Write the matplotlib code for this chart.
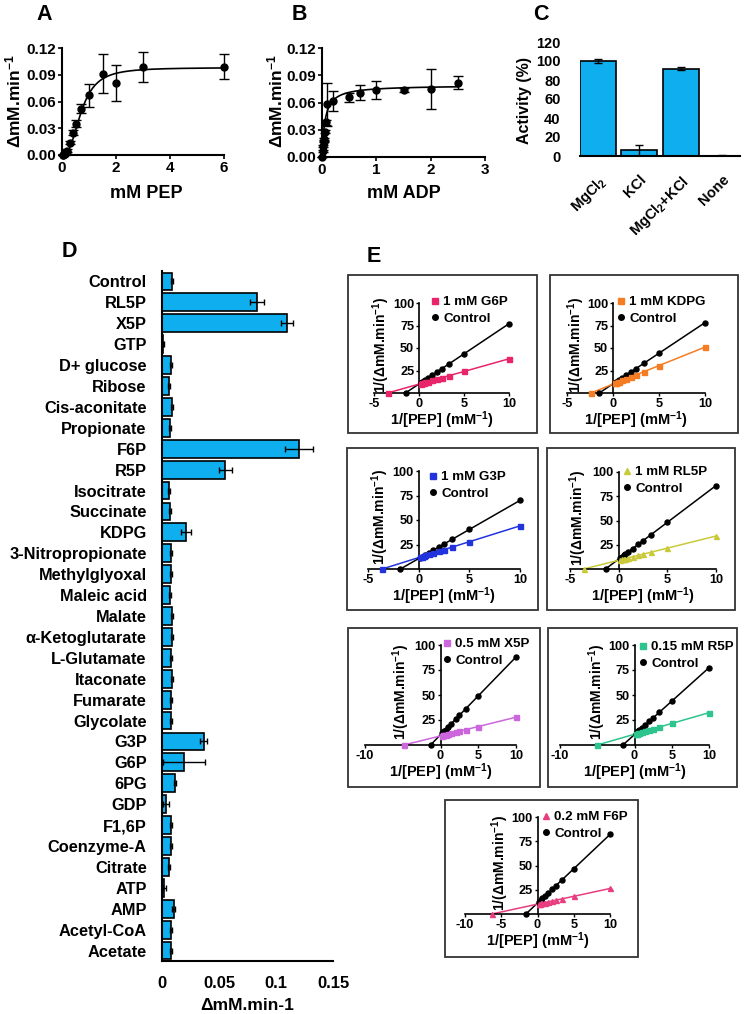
import matplotlib
matplotlib.use('Agg')
import matplotlib.pyplot as plt
import numpy as np
from matplotlib.patches import Rectangle
from matplotlib.lines import Line2D

plt.rcParams['font.family'] = ['Liberation Sans', 'DejaVu Sans']
plt.rcParams['font.weight'] = 'bold'
plt.rcParams['axes.labelweight'] = 'bold'
plt.rcParams['mathtext.fontset'] = 'custom'
plt.rcParams['mathtext.rm'] = 'Liberation Sans:bold'
plt.rcParams['mathtext.bf'] = 'Liberation Sans:bold'
plt.rcParams['mathtext.it'] = 'Liberation Sans:bold'
plt.rcParams['mathtext.default'] = 'rm'
plt.rcParams['axes.unicode_minus'] = False

# ---------------- data ----------------
# Panel A: PEP saturation
pep_conc = [0.025, 0.05, 0.1, 0.15, 0.2, 0.3, 0.4, 0.5, 0.7, 1.0, 1.5, 2.0, 3.0, 6.0]
pep_rate = [0.0, 0.0005, 0.001, 0.003, 0.005, 0.014, 0.025, 0.035, 0.052, 0.067, 0.091, 0.081, 0.099, 0.099]
pep_err = [0.0, 0.0, 0.0005, 0.001, 0.002, 0.002, 0.003, 0.004, 0.005, 0.013, 0.022, 0.020, 0.017, 0.014]
pep_vmax, pep_k, pep_n = 0.098, 0.72, 2.6   # Hill fit

# Panel B: ADP saturation
adp_conc = [0.005, 0.01, 0.02, 0.03, 0.04, 0.05, 0.075, 0.1, 0.2, 0.5, 0.7, 1.0, 1.5, 2.0, 2.5]
adp_rate = [0.0, 0.007, 0.012, 0.017, 0.020, 0.028, 0.038, 0.058, 0.062, 0.066, 0.071, 0.074, 0.074, 0.075, 0.082]
adp_err = [0.0, 0.001, 0.001, 0.001, 0.001, 0.002, 0.003, 0.024, 0.011, 0.005, 0.008, 0.010, 0.002, 0.022, 0.007]
adp_vmax, adp_km = 0.079, 0.055   # Michaelis-Menten fit

# Panel C: metal ions
conditions = ['MgCl$_2$', 'KCl', 'MgCl$_2$+KCl', 'None']
activity = [100, 6, 92, 0.5]
activity_err = [2.5, 6, 1.2, 0.2]

# Panel D: effectors
effectors = ['Control', 'RL5P', 'X5P', 'GTP', 'D+ glucose', 'Ribose', 'Cis-aconitate',
             'Propionate', 'F6P', 'R5P', 'Isocitrate', 'Succinate', 'KDPG',
             '3-Nitropropionate', 'Methylglyoxal', 'Maleic acid', 'Malate',
             'α-Ketoglutarate', 'L-Glutamate', 'Itaconate', 'Fumarate', 'Glycolate',
             'G3P', 'G6P', '6PG', 'GDP', 'F1,6P', 'Coenzyme-A', 'Citrate', 'ATP',
             'AMP', 'Acetyl-CoA', 'Acetate']
effector_rate = [0.009, 0.0833, 0.1096, 0.001, 0.008, 0.006, 0.0085, 0.0073, 0.120, 0.0556,
                 0.006, 0.0073, 0.021, 0.0076, 0.008, 0.0067, 0.0088, 0.009, 0.0076,
                 0.0088, 0.008, 0.0076, 0.0365, 0.019, 0.0117, 0.0035, 0.0076, 0.0076,
                 0.006, 0.002, 0.0102, 0.0076, 0.0076]
effector_err = [0.001, 0.006, 0.005, 0.0005, 0.0008, 0.0008, 0.001, 0.001, 0.0125, 0.0055,
                0.001, 0.0008, 0.004, 0.0008, 0.0008, 0.0008, 0.001, 0.001, 0.0008,
                0.001, 0.001, 0.0008, 0.003, 0.0185, 0.001, 0.003, 0.0008, 0.001,
                0.001, 0.0015, 0.0015, 0.001, 0.001]

# Panel E: double reciprocal plots
inv_pep = [0.167, 0.333, 0.5, 0.667, 1.0, 1.43, 2.0, 2.5, 3.33, 5.0, 10.0]

g6p_ctrl_xint, g6p_xint = -1.5, -3.5
g6p_ctrl = [11.1, 12.2, 13.4, 14.5, 16.7, 19.6, 23.4, 26.8, 32.3, 43.5, 77.0]
g6p_eff = [10.3, 10.8, 11.3, 11.7, 12.7, 13.9, 15.5, 16.9, 19.2, 23.9, 38.0]

kdpg_ctrl_xint, kdpg_xint = -1.5, -2.4
kdpg_ctrl = [11.3, 12.5, 13.6, 14.7, 17.0, 19.9, 23.8, 27.2, 32.8, 44.2, 78.2]
kdpg_eff = [10.6, 11.3, 11.9, 12.6, 14.0, 15.8, 18.1, 20.2, 23.6, 30.4, 51.0]

g3p_ctrl_xint, g3p_xint = -1.8, -3.6
g3p_ctrl = [11.7, 12.7, 13.7, 14.7, 16.6, 19.2, 22.6, 25.5, 30.4, 40.4, 70.0]
g3p_eff = [12.1, 12.7, 13.2, 13.8, 14.8, 16.2, 18.1, 19.7, 22.4, 27.8, 44.0]

rl5p_ctrl_xint, rl5p_xint = -1.35, -3.6
rl5p_ctrl = [11.5, 12.7, 14.0, 15.3, 17.8, 21.0, 25.4, 29.2, 35.4, 48.1, 86.0]
rl5p_eff = [9.4, 9.8, 10.3, 10.7, 11.5, 12.6, 14.0, 15.3, 17.3, 21.5, 34.0]

x5p_ctrl_xint, x5p_xint = -1.32, -4.85
x5p_ctrl = [11.6, 12.9, 14.2, 15.5, 18.1, 21.4, 25.8, 29.7, 36.2, 49.2, 88.0]
x5p_eff = [9.4, 9.7, 10.0, 10.3, 11.0, 11.8, 12.8, 13.8, 15.3, 18.5, 27.8]

r5p_ctrl_xint, r5p_xint = -1.56, -5.0
r5p_ctrl = [11.5, 12.6, 13.7, 14.9, 17.1, 20.0, 23.8, 27.1, 32.7, 43.9, 77.3]
r5p_eff = [11.2, 11.5, 11.9, 12.2, 13.0, 13.9, 15.1, 16.2, 18.0, 21.6, 32.3]

f6p_ctrl_xint, f6p_xint = -1.6, -6.3
f6p_ctrl = [12.5, 13.7, 14.8, 16.0, 18.4, 21.4, 25.4, 29.0, 34.9, 46.7, 82.0]
f6p_eff = [10.5, 10.7, 11.0, 11.3, 11.8, 12.5, 13.4, 14.2, 15.6, 18.3, 26.3]

# ---------------- layout helpers ----------------
W, H = 745, 1014
fig = plt.figure(figsize=(W / 100, H / 100), dpi=100)


def px_rect(l, t, r, b):
    return [l / W, 1 - b / H, (r - l) / W, (b - t) / H]


def fpt(x, y):
    return (x / W, 1 - y / H)


def ftext(x, y, s, **kw):
    fig.text(x / W, 1 - y / H, s, **kw)


BAR = '#0FAEEE'
SPW = 1.5

# panel letters
for let, (x, y) in zip('ABCDE', [(44, 15), (299, 15), (541, 15), (69, 252), (374, 256)]):
    ftext(x, y, let, fontsize=15.5, ha='center', va='center', fontweight='bold')


def style_xy(ax, lw=SPW):
    for s in ['top', 'right']:
        ax.spines[s].set_visible(False)
    for s in ['left', 'bottom']:
        ax.spines[s].set_linewidth(lw)


# ---------------- Panel A ----------------
axA = fig.add_axes(px_rect(62, 48, 224, 155))
style_xy(axA)
xx = np.linspace(0, 6, 400)
axA.plot(xx, pep_vmax * xx ** pep_n / (pep_k ** pep_n + xx ** pep_n), color='black', lw=1.2)
axA.errorbar(pep_conc, pep_rate, yerr=pep_err, fmt='o', color='black', ms=5,
             capsize=3.5, elinewidth=1, capthick=1, clip_on=False, zorder=3)
axA.set_xlim(0, 6)
axA.set_ylim(0, 0.12)
axA.set_xticks([0, 2, 4, 6])
axA.set_yticks([0, 0.03, 0.06, 0.09, 0.12])
axA.set_yticklabels(['0.00', '0.03', '0.06', '0.09', '0.12'])
axA.tick_params(labelsize=11, width=1.2, length=3, pad=1.5)
ftext(13, 101, 'ΔmM.min$^{-1}$', rotation=90, ha='center', va='center', fontsize=12.5)
ftext(146, 193, 'mM PEP', ha='center', va='center', fontsize=13)

# ---------------- Panel B ----------------
axB = fig.add_axes(px_rect(322, 48, 485, 157))
style_xy(axB)
xx = np.linspace(0, 2.5, 400)
axB.plot(xx, adp_vmax * xx / (adp_km + xx), color='black', lw=1.2)
axB.errorbar(adp_conc, adp_rate, yerr=adp_err, fmt='o', color='black', ms=5,
             capsize=3.5, elinewidth=1, capthick=1, clip_on=False, zorder=3)
axB.set_xlim(0, 3)
axB.set_ylim(0, 0.12)
axB.set_xticks([0, 1, 2, 3])
axB.set_yticks([0, 0.03, 0.06, 0.09, 0.12])
axB.set_yticklabels(['0.00', '0.03', '0.06', '0.09', '0.12'])
axB.tick_params(labelsize=11, width=1.2, length=3, pad=1.5)
ftext(275, 101, 'ΔmM.min$^{-1}$', rotation=90, ha='center', va='center', fontsize=12.5)
ftext(404, 193, 'mM ADP', ha='center', va='center', fontsize=13)

# ---------------- Panel C ----------------
axC = fig.add_axes(px_rect(580, 42, 740, 156))
for s in ['top', 'right', 'left']:
    axC.spines[s].set_visible(False)
axC.spines['bottom'].set_linewidth(SPW)
xc = np.arange(len(conditions))
axC.bar(xc, activity, width=0.86, color=BAR, edgecolor='black', linewidth=1.2,
        yerr=activity_err, capsize=3, error_kw=dict(elinewidth=1, capthick=1))
axC.set_xlim(-0.43, 3.43)
axC.set_ylim(0, 120)
axC.set_yticks(range(0, 121, 20))
axC.set_xticks(xc)
axC.set_xticklabels(conditions, rotation=45, ha='right', rotation_mode='anchor')
axC.tick_params(axis='y', length=0, pad=14, labelsize=10.5)
axC.tick_params(axis='x', length=0, pad=12, labelsize=10.5)
ftext(525, 100, 'Activity (%)', rotation=90, ha='center', va='center', fontsize=11.5)

# ---------------- Panel D ----------------
axD = fig.add_axes(px_rect(162, 271, 333, 961))
style_xy(axD)
yd = np.arange(len(effectors))
axD.barh(yd, effector_rate, height=0.85, color=BAR, edgecolor='black', linewidth=1.2,
         xerr=effector_err, capsize=2.5, error_kw=dict(elinewidth=1, capthick=1))
axD.set_ylim(len(effectors) - 0.5, -0.5)
axD.set_xlim(0, 0.15)
axD.set_yticks(yd)
axD.set_yticklabels(effectors)
axD.set_xticks([0, 0.05, 0.1, 0.15])
axD.set_xticklabels(['0', '0.05', '0.1', '0.15'])
axD.tick_params(axis='y', length=0, pad=11, labelsize=11.8)
axD.tick_params(axis='x', length=0, pad=11, labelsize=12)
ftext(247, 1005, 'ΔmM.min-1', ha='center', va='center', fontsize=12.5)

# ---------------- Panel E ----------------
e_panels = [
    dict(box=(348, 275, 537, 433), ax=(374, 303, 509, 393), xlim=(-5, 10), xt=[-5, 0, 5, 10],
         ylx=381, leg=(435, 304), ctrl=g6p_ctrl, cx=g6p_ctrl_xint, eff=g6p_eff, ex=g6p_xint,
         color='#E8246A', marker='s', label='1 mM G6P'),
    dict(box=(550, 275, 738, 433), ax=(567, 303, 705, 393), xlim=(-5, 10), xt=[-5, 0, 5, 10],
         ylx=576, leg=(621, 304), ctrl=kdpg_ctrl, cx=kdpg_ctrl_xint, eff=kdpg_eff, ex=kdpg_xint,
         color='#F57C22', marker='s', label='1 mM KDPG'),
    dict(box=(347, 448, 538, 610), ax=(368, 471, 520, 569), xlim=(-5, 10), xt=[-5, 0, 5, 10],
         ylx=380, leg=(433, 479), ctrl=g3p_ctrl, cx=g3p_ctrl_xint, eff=g3p_eff, ex=g3p_xint,
         color='#2233DD', marker='s', label='1 mM G3P'),
    dict(box=(547, 448, 735, 610), ax=(570, 472, 716, 569), xlim=(-5, 10), xt=[-5, 0, 5, 10],
         ylx=578, leg=(627, 474), ctrl=rl5p_ctrl, cx=rl5p_ctrl_xint, eff=rl5p_eff, ex=rl5p_xint,
         color='#C9C93A', marker='^', label='1 mM RL5P'),
    dict(box=(348, 628, 540, 787), ax=(365, 645, 516, 745), xlim=(-10, 10), xt=[-10, 0, 5, 10],
         ylx=401, leg=(447, 646), ctrl=x5p_ctrl, cx=x5p_ctrl_xint, eff=x5p_eff, ex=x5p_xint,
         color='#CC66DD', marker='s', label='0.5 mM X5P'),
    dict(box=(548, 628, 737, 787), ax=(560, 645, 709, 745), xlim=(-10, 10), xt=[-10, 0, 5, 10],
         ylx=597, leg=(643, 649), ctrl=r5p_ctrl, cx=r5p_ctrl_xint, eff=r5p_eff, ex=r5p_xint,
         color='#2DC48D', marker='s', label='0.15 mM R5P'),
    dict(box=(445, 800, 638, 957), ax=(465, 817, 610, 914), xlim=(-10, 10), xt=[-10, -5, 0, 5, 10],
         ylx=500, leg=(546, 819), ctrl=f6p_ctrl, cx=f6p_ctrl_xint, eff=f6p_eff, ex=f6p_xint,
         color='#E83D7E', marker='^', label='0.2 mM F6P'),
]

for p in e_panels:
    bl, bt, br, bb = p['box']
    fig.patches.append(Rectangle((bl / W, 1 - bb / H), (br - bl) / W, (bb - bt) / H,
                                 transform=fig.transFigure, fill=False,
                                 edgecolor='#333333', linewidth=1.3))
    l, t, r, b = p['ax']
    ax = fig.add_axes(px_rect(l, t, r, b))
    ax.patch.set_visible(False)
    for s in ['top', 'right']:
        ax.spines[s].set_visible(False)
    ax.spines['left'].set_position(('data', 0))
    ax.spines['bottom'].set_position(('data', 0))
    ax.spines['left'].set_linewidth(1.2)
    ax.spines['bottom'].set_linewidth(1.2)
    cx = [p['cx']] + inv_pep
    cy = [0] + p['ctrl']
    ex = [p['ex']] + inv_pep
    ey = [0] + p['eff']
    ax.plot([cx[0], cx[-1]], [cy[0], cy[-1]], color='black', lw=1.1, zorder=2)
    ax.plot([ex[0], ex[-1]], [ey[0], ey[-1]], color=p['color'], lw=1.1, zorder=2)
    ax.plot(cx, cy, ls='none', marker='o', ms=3.6, color='black', clip_on=False, zorder=3)
    ax.plot(ex, ey, ls='none', marker=p['marker'], ms=3.6, color=p['color'],
            clip_on=False, zorder=3)
    ax.set_xlim(*p['xlim'])
    ax.set_ylim(0, 100)
    ax.set_xticks(p['xt'])
    ax.set_yticks([25, 50, 75, 100])
    ax.tick_params(labelsize=9.2, width=1, length=2.5, pad=1)
    ftext(p['ylx'], (t + b) / 2 - 3, '1/(ΔmM.min$^{-1}$)', rotation=90, ha='center',
          va='center', fontsize=10)
    ftext((l + r) / 2, b + 27, '1/[PEP] (mM$^{-1}$)', ha='center', va='center',
          fontsize=10.5)
    mx, my = p['leg']
    handles = [Line2D([], [], ls='none', marker=p['marker'], ms=4, color=p['color']),
               Line2D([], [], ls='none', marker='o', ms=4, color='black')]
    ax.legend(handles, [p['label'], 'Control'], loc='upper left',
              bbox_to_anchor=fpt(mx - 5, my - 8), bbox_transform=fig.transFigure,
              frameon=False, borderpad=0, borderaxespad=0, handlelength=0.7,
              handletextpad=0.3, labelspacing=0.3, fontsize=9.6)

fig.savefig('out.png', dpi=100)
